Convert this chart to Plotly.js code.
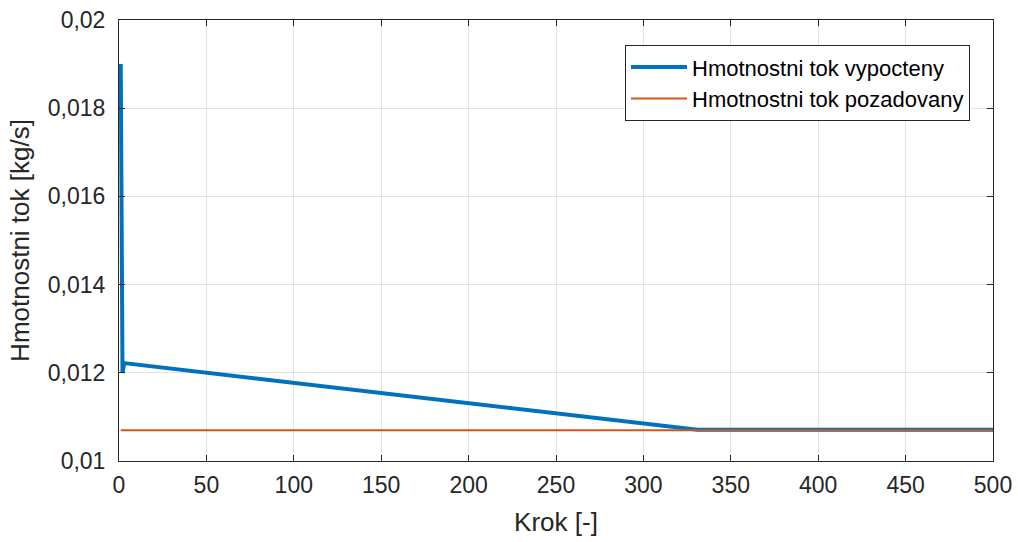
<!DOCTYPE html>
<html>
<head>
<meta charset="utf-8">
<script src="https://cdn.plot.ly/plotly-3.0.1.min.js"></script>
<style>html,body{margin:0;padding:0;background:#fff;}#chart{width:1018px;height:542px;}</style>
</head>
<body>
<div id="chart"></div>
<script>
// Computed mass flow: breakpoints of the solver trace
const stepComputed = [1, 2, 3, 331, 500];
const flowComputed = [0.0190, 0.0120, 0.01222, 0.01071, 0.01071];

// Required mass flow (constant set point)
const stepRequired = [1, 500];
const flowRequired = [0.0107, 0.0107];

const xTicks = [0, 50, 100, 150, 200, 250, 300, 350, 400, 450, 500];
const yTicks = [0.010, 0.012, 0.014, 0.016, 0.018, 0.020];
const yTickText = ['0,01', '0,012', '0,014', '0,016', '0,018', '0,02'];

const font = 'Liberation Sans, Arial, Helvetica, sans-serif';
const axisColor = '#262626';

const traces = [
  {
    x: stepComputed, y: flowComputed, mode: 'lines', type: 'scatter',
    name: 'Hmotnostni tok vypocteny',
    line: {color: '#0072BD', width: 4}
  },
  {
    x: stepRequired, y: flowRequired, mode: 'lines', type: 'scatter',
    name: 'Hmotnostni tok pozadovany',
    line: {color: '#D95319', width: 2}
  }
];

const layout = {
  width: 1018, height: 542,
  margin: {l: 119, r: 25, t: 20, b: 81},
  paper_bgcolor: '#ffffff', plot_bgcolor: '#ffffff',
  font: {family: font, size: 23, color: axisColor},
  showlegend: true,
  legend: {
    x: 0.9737, y: 0.943, xanchor: 'right', yanchor: 'top',
    bgcolor: '#ffffff', bordercolor: axisColor, borderwidth: 1,
    font: {family: font, size: 22, color: '#000000'},
    itemwidth: 56,
    tracegroupgap: 0
  },
  xaxis: {
    range: [0, 500], tickvals: xTicks, ticktext: xTicks.map(String),
    showgrid: true, gridcolor: '#e3e3e3', gridwidth: 1,
    zeroline: false, showline: true, linecolor: axisColor, linewidth: 1,
    mirror: 'ticks', ticks: 'inside', ticklen: 6, tickcolor: axisColor,
    ticklabelstandoff: 3,
    tickfont: {family: font, size: 23, color: axisColor},
    title: {text: 'Krok [-]', font: {family: font, size: 26, color: axisColor}, standoff: 16}
  },
  yaxis: {
    range: [0.010, 0.020], tickvals: yTicks, ticktext: yTickText,
    showgrid: true, gridcolor: '#e3e3e3', gridwidth: 1,
    zeroline: false, showline: true, linecolor: axisColor, linewidth: 1,
    mirror: 'ticks', ticks: 'inside', ticklen: 6, tickcolor: axisColor,
    ticklabelstandoff: 8,
    tickfont: {family: font, size: 23, color: axisColor},
    title: {text: 'Hmotnostni tok [kg/s]', font: {family: font, size: 26, color: axisColor}, standoff: 10}
  }
};

Plotly.newPlot('chart', traces, layout, {displayModeBar: false, staticPlot: true});
</script>
</body>
</html>
